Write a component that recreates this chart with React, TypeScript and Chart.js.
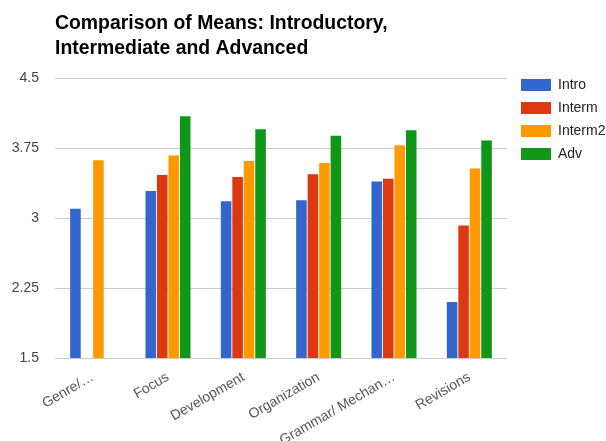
import React, { useEffect, useRef } from "react";
import { Chart, registerables } from "chart.js";

Chart.register(...registerables);

const categories = ["Genre/…", "Focus", "Development", "Organization", "Grammar/ Mechan…", "Revisions"];
const intro = [3.1, 3.29, 3.18, 3.19, 3.39, 2.1];
const interm = [null, 3.46, 3.44, 3.47, 3.42, 2.92];
const interm2 = [3.62, 3.67, 3.61, 3.59, 3.78, 3.53];
const adv = [null, 4.09, 3.95, 3.88, 3.94, 3.83];
const titleLines = ["Comparison of Means: Introductory,", "Intermediate and Advanced"];
const yTicks = { min: 1.5, max: 4.5, step: 0.75 };

const FONT = "'Liberation Sans', Arial, sans-serif";

const titlePlugin = {
  id: "customTitle",
  afterDraw(chart: any) {
    const ctx = chart.ctx;
    ctx.save();
    ctx.fillStyle = "#000";
    ctx.font = `bold 19.4px ${FONT}`;
    ctx.textBaseline = "alphabetic";
    ctx.textAlign = "left";
    titleLines.forEach((line, i) => ctx.fillText(line, 55, 29 + i * 25));
    ctx.restore();
  },
};

const legendPlace = {
  id: "legendPlace",
  afterLayout(chart: any) {
    const lg = chart.legend;
    if (!lg) return;
    const w = lg.width;
    const h = lg.height;
    lg.left = 512;
    lg.right = 512 + w;
    lg.top = 69;
    lg.bottom = 69 + h;
  },
};

export default function App() {
  const ref = useRef<HTMLCanvasElement | null>(null);
  useEffect(() => {
    if (!ref.current) return;
    const chart = new Chart(ref.current, {
      type: "bar",
      data: {
        labels: categories,
        datasets: [
          { label: "Intro", data: intro, backgroundColor: "#3366cc" },
          { label: "Interm", data: interm, backgroundColor: "#dc3912" },
          { label: "Interm2", data: interm2, backgroundColor: "#ff9900" },
          { label: "Adv", data: adv, backgroundColor: "#109618" },
        ],
      },
      options: {
        animation: false,
        responsive: false,
        maintainAspectRatio: false,
        layout: { padding: { top: 78, left: 0, right: 0, bottom: 0 } },
        datasets: { bar: { categoryPercentage: 0.61, barPercentage: 0.92 } },
        plugins: {
          title: { display: false },
          tooltip: { enabled: false },
          legend: {
            position: "right",
            align: "start",
            maxWidth: 99,
            labels: {
              boxWidth: 30,
              boxHeight: 12,
              padding: 9,
              color: "#222",
              font: { family: FONT, size: 14 },
            },
          },
        },
        scales: {
          x: {
            grid: { display: false },
            border: { display: false },
            ticks: {
              color: "#555",
              font: { family: FONT, size: 14 },
              maxRotation: 30,
              minRotation: 30,
              autoSkip: false,
            },
            afterFit: (s: any) => { s.height = 83; },
          },
          y: {
            min: yTicks.min,
            max: yTicks.max,
            grid: { color: "#cccccc", drawTicks: false },
            border: { display: false },
            ticks: {
              stepSize: yTicks.step,
              padding: 16,
              color: "#444",
              font: { family: FONT, size: 14 },
              callback: (v: any) => String(Math.round(Number(v) * 100) / 100),
            },
            afterFit: (s: any) => { s.width = 55; },
          },
        },
      },
      plugins: [titlePlugin, legendPlace],
    } as any);
    return () => chart.destroy();
  }, []);
  return (
    <div style={{ position: "fixed", left: 0, top: 0, width: 606, height: 441 }}>
      <canvas ref={ref} width={606} height={441} style={{ width: 606, height: 441 }} />
    </div>
  );
}
